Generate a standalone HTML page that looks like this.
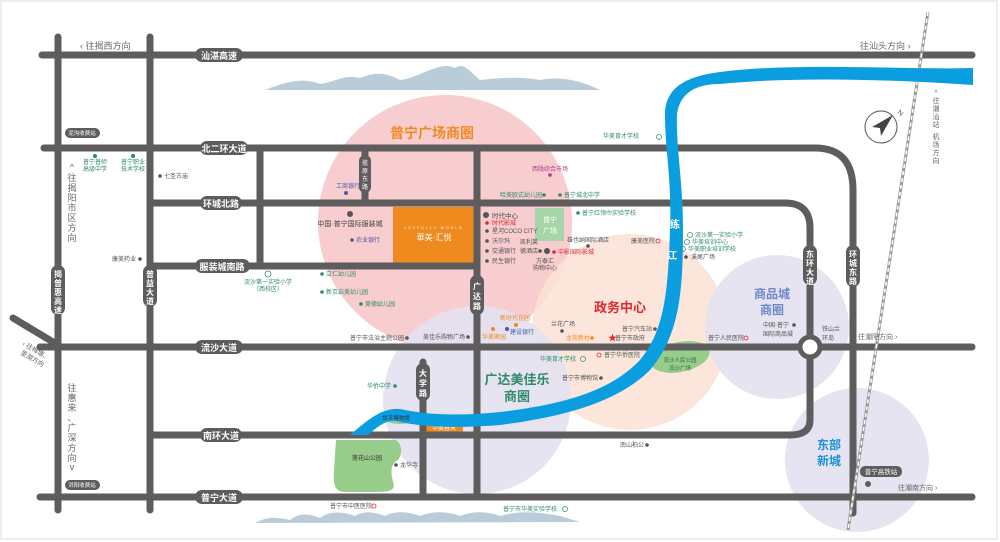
<!DOCTYPE html>
<html><head><meta charset="utf-8"><style>
html,body{margin:0;padding:0;background:#fff}
svg{display:block;font-family:"Liberation Sans","Noto Sans CJK SC",sans-serif}
.s{font-size:6px;fill:#555}
.g{font-size:6px;fill:#2f8a6a}
.b{font-size:6px;fill:#4a5aa0}
.r{font-size:6px;fill:#e0262e}
.o{font-size:6px;fill:#ef8a1e}
.pl{font-size:9px;fill:#fff;font-weight:bold}
.dir{font-size:9px;fill:#666}
</style></head><body>
<svg width="1000" height="542" viewBox="0 0 1000 542">
<rect x="0" y="0" width="1000" height="542" fill="#fff"/>
<rect x="1" y="1" width="996" height="538" fill="none" stroke="#eee" stroke-width="2"/>
<!-- mountains -->
<path d="M265,90 C290,80 305,78 320,84 C335,82 345,74 360,78 C375,72 385,72 400,80 C420,78 440,60 455,68 C465,62 470,72 480,80 C500,78 520,76 540,80 C560,76 580,80 600,90 Z" fill="#b9ccd9"/>
<path d="M255,523 C270,515 280,518 290,520 C300,512 310,514 320,518 C330,510 345,512 355,516 C365,510 375,512 385,516 C395,510 410,512 420,516 C435,510 450,512 460,516 C475,510 490,512 500,516 C520,510 540,512 560,516 L580,522 Z" fill="#b9ccd9"/>
<!-- circles -->
<circle cx="445" cy="222" r="127" fill="#f7cdd0"/>
<circle cx="630" cy="332" r="98" fill="#fbe2d6" fill-opacity="0.85"/>
<circle cx="477" cy="400" r="94" fill="#e3e1ef" fill-opacity="0.9"/>
<circle cx="777" cy="327" r="72" fill="#e3e1ef" fill-opacity="0.9"/>
<circle cx="857" cy="460" r="72" fill="#e3e1ef" fill-opacity="0.9"/>
<!-- green areas -->
<rect x="535" y="208" width="29" height="33" fill="#a8d5a8"/>
<path d="M336,440 L396,440 C403,445 402,455 398,460 C388,465 392,478 394,485 C394,492 385,492 370,492 L345,492 C335,492 333,485 334,470 Z" fill="#97cc8a"/>
<ellipse cx="680" cy="357" rx="30" ry="15" fill="#97cc8a" transform="rotate(-12 680 357)"/>
<ellipse cx="400" cy="418" rx="16" ry="6" fill="#97cc8a"/>
<!-- orange block -->
<rect x="393" y="207" width="82" height="57" fill="#ef8a1e"/>
<text x="434" y="229" font-size="3.5" fill="#fff" text-anchor="middle" letter-spacing="2">JOYFULLY WORLD</text>
<text x="434" y="240" font-size="8" fill="#fff" text-anchor="middle">華美·汇悦</text>
<rect x="425" y="422" width="38" height="10" fill="#ef8a1e"/>
<text x="444" y="430" font-size="6" fill="#fff" text-anchor="middle">华美春天</text>
<!-- roads -->
<g stroke="#5e5c5d" stroke-width="7" fill="none" stroke-linecap="round">
<path d="M42,55 H972"/>
<path d="M44,148 H815 Q853,148 853,190 V513"/>
<path d="M150,203 H785 Q810,203 810,228 V420 Q810,435 790,435 H150"/>
<path d="M150,266 H477"/>
<path d="M40,347 H972"/>
<path d="M40,497 H972"/>
<path d="M58,37 V510"/>
<path d="M150,37 V510"/>
<path d="M260,150 V266"/>
<path d="M365,150 V203"/>
<path d="M477,150 V497"/>
<path d="M423,362 V497"/>
<path d="M13,318 L58,345"/>
</g>
<circle cx="810" cy="347" r="10" fill="#fff" stroke="#5e5c5d" stroke-width="5"/>
<!-- rail -->
<line x1="928" y1="12" x2="848" y2="530" stroke="#999" stroke-width="3"/>
<line x1="928" y1="12" x2="848" y2="530" stroke="#fff" stroke-width="1.5" stroke-dasharray="4 3"/>
<!-- river -->
<path d="M973,80 L973,68 C900,70 800,62 720,72 C690,76 665,85 665,115 C665,150 672,180 670,230 C668,290 665,330 640,360 C610,392 560,405 500,412 C460,416 430,415 405,410 C385,405 370,418 350,435 L368,435 C380,424 390,418 400,422 C430,428 460,428 500,425 C570,416 620,400 650,370 C680,335 683,290 683,230 C683,180 676,150 677,115 C680,90 700,84 720,84 C800,76 900,80 973,85 Z" fill="#0a9ee0"/>
<text x="675" y="228" font-size="10" fill="#fff" font-weight="bold" text-anchor="middle">练</text>
<text x="672" y="259" font-size="10" fill="#fff" font-weight="bold" text-anchor="middle">江</text>
<!-- road labels -->
<g>
<rect x="195" y="48" width="48" height="14" rx="7" fill="#5e5c5d"/><text x="219" y="59" class="pl" text-anchor="middle">汕湛高速</text>
<rect x="200" y="141" width="48" height="14" rx="7" fill="#5e5c5d"/><text x="224" y="152" class="pl" text-anchor="middle">北二环大道</text>
<rect x="200" y="196" width="42" height="14" rx="7" fill="#5e5c5d"/><text x="221" y="207" class="pl" text-anchor="middle">环城北路</text>
<rect x="195" y="259" width="55" height="14" rx="7" fill="#5e5c5d"/><text x="222" y="270" class="pl" text-anchor="middle">服装城南路</text>
<rect x="195" y="340" width="48" height="14" rx="7" fill="#5e5c5d"/><text x="219" y="351" class="pl" text-anchor="middle">流沙大道</text>
<rect x="200" y="428" width="42" height="14" rx="7" fill="#5e5c5d"/><text x="221" y="439" class="pl" text-anchor="middle">南环大道</text>
<rect x="195" y="490" width="48" height="14" rx="7" fill="#5e5c5d"/><text x="219" y="501" class="pl" text-anchor="middle">普宁大道</text>
<rect x="51" y="265" width="14" height="50" rx="7" fill="#5e5c5d"/><text x="58" y="277" font-size="8" fill="#fff" font-weight="bold" text-anchor="middle"><tspan x="58">揭</tspan><tspan x="58" dy="9">普</tspan><tspan x="58" dy="9">惠</tspan><tspan x="58" dy="9">高</tspan><tspan x="58" dy="9">速</tspan></text>
<rect x="143" y="265" width="14" height="42" rx="7" fill="#5e5c5d"/><text x="150" y="277" font-size="8" fill="#fff" font-weight="bold" text-anchor="middle"><tspan x="150">普</tspan><tspan x="150" dy="9">益</tspan><tspan x="150" dy="9">大</tspan><tspan x="150" dy="9">道</tspan></text>
<rect x="359" y="155" width="12" height="38" rx="6" fill="#5e5c5d"/><text x="365" y="165" font-size="6" fill="#fff" text-anchor="middle"><tspan x="365">揽</tspan><tspan x="365" dy="8">原</tspan><tspan x="365" dy="8">东</tspan><tspan x="365" dy="8">路</tspan></text>
<rect x="470" y="275" width="14" height="40" rx="7" fill="#5e5c5d"/><text x="477" y="289" font-size="8" fill="#fff" font-weight="bold" text-anchor="middle"><tspan x="477">广</tspan><tspan x="477" dy="10">达</tspan><tspan x="477" dy="10">路</tspan></text>
<rect x="416" y="363" width="14" height="38" rx="7" fill="#5e5c5d"/><text x="423" y="376" font-size="8" fill="#fff" font-weight="bold" text-anchor="middle"><tspan x="423">大</tspan><tspan x="423" dy="10">学</tspan><tspan x="423" dy="10">路</tspan></text>
<rect x="803" y="245" width="14" height="40" rx="7" fill="#5e5c5d"/><text x="810" y="257" font-size="8" fill="#fff" font-weight="bold" text-anchor="middle"><tspan x="810">东</tspan><tspan x="810" dy="9">环</tspan><tspan x="810" dy="9">大</tspan><tspan x="810" dy="9">道</tspan></text>
<rect x="846" y="245" width="14" height="42" rx="7" fill="#5e5c5d"/><text x="853" y="257" font-size="8" fill="#fff" font-weight="bold" text-anchor="middle"><tspan x="853">环</tspan><tspan x="853" dy="9">城</tspan><tspan x="853" dy="9">东</tspan><tspan x="853" dy="9">路</tspan></text>
<rect x="65" y="128" width="35" height="10" rx="5" fill="#5e5c5d"/><text x="82" y="135" font-size="5.5" fill="#fff" text-anchor="middle">泥沟收费站</text>
<rect x="65" y="480" width="35" height="10" rx="5" fill="#5e5c5d"/><text x="82" y="487" font-size="5.5" fill="#fff" text-anchor="middle">洪阳收费站</text>
<rect x="860" y="466" width="42" height="11" rx="5" fill="#5e5c5d"/><text x="881" y="474" font-size="6.5" fill="#fff" text-anchor="middle">普宁高铁站</text>
<circle cx="868" cy="484" r="3" fill="#5e5c5d"/>
</g>
<!-- direction texts -->
<text x="80" y="49" class="dir">‹ 往揭西方向</text>
<text x="860" y="49" class="dir">往汕头方向 ›</text>
<text x="72" y="170" class="dir" text-anchor="middle"><tspan x="72">^</tspan><tspan x="72" dy="11">往</tspan><tspan x="72" dy="10">揭</tspan><tspan x="72" dy="10">阳</tspan><tspan x="72" dy="10">市</tspan><tspan x="72" dy="10">区</tspan><tspan x="72" dy="10">方</tspan><tspan x="72" dy="10">向</tspan></text>
<text x="72" y="391" class="dir" text-anchor="middle"><tspan x="72">往</tspan><tspan x="72" dy="10">惠</tspan><tspan x="72" dy="10">来</tspan><tspan x="72" dy="10">、</tspan><tspan x="72" dy="10">广</tspan><tspan x="72" dy="10">深</tspan><tspan x="72" dy="10">方</tspan><tspan x="72" dy="10">向</tspan><tspan x="72" dy="9">v</tspan></text>
<text x="22" y="345" font-size="6.5" fill="#666" transform="rotate(30 22 345)">‹ 往梅塘、</text>
<text x="20" y="354" font-size="6.5" fill="#666" transform="rotate(30 20 354)">里湖方向</text>
<text x="936" y="95" font-size="7" fill="#666" text-anchor="middle"><tspan x="936">^</tspan><tspan x="936" dy="8">往</tspan><tspan x="936" dy="8">潮</tspan><tspan x="936" dy="8">汕</tspan><tspan x="936" dy="8">站</tspan><tspan x="936" dy="12">机</tspan><tspan x="936" dy="8">场</tspan><tspan x="936" dy="8">方</tspan><tspan x="936" dy="8">向</tspan></text>
<text x="858" y="339" font-size="7" fill="#666">往潮阳方向 ›</text>
<text x="898" y="490" font-size="7" fill="#666">往潮南方向 ›</text>
<!-- compass -->
<circle cx="881" cy="127" r="16" fill="none" stroke="#555" stroke-width="1"/>
<path d="M893,115 L872,127 L880,128 L881,136 Z" fill="#444"/>
<text x="897" y="113" font-size="7" fill="#555" transform="rotate(40 897 113)">N</text>
<!-- district titles -->
<text x="432" y="138" font-size="14" fill="#ef8a1e" font-weight="bold" text-anchor="middle">普宁广场商圈</text>
<text x="620" y="312" font-size="13" fill="#e0262e" font-weight="bold" text-anchor="middle">政务中心</text>
<text x="517" y="384" font-size="13" fill="#2f8a6a" font-weight="bold" text-anchor="middle">广达美佳乐</text>
<text x="517" y="401" font-size="13" fill="#2f8a6a" font-weight="bold" text-anchor="middle">商圈</text>
<text x="772" y="298" font-size="12" fill="#6c86c8" font-weight="bold" text-anchor="middle">商品城</text>
<text x="772" y="314" font-size="12" fill="#6c86c8" font-weight="bold" text-anchor="middle">商圈</text>
<text x="829" y="449" font-size="12" fill="#1a90d8" font-weight="bold" text-anchor="middle">东部</text>
<text x="829" y="465" font-size="12" fill="#1a90d8" font-weight="bold" text-anchor="middle">新城</text>
<text x="550" y="222" font-size="7" fill="#fff" text-anchor="middle">普宁</text>
<text x="550" y="233" font-size="7" fill="#fff" text-anchor="middle">广场</text>
<text x="367" y="460" font-size="6" fill="#333" text-anchor="middle">莲花山公园</text>
<text x="680" y="362" font-size="5.5" fill="#2f6a4a" text-anchor="middle">流沙人民公园</text>
<text x="680" y="370" font-size="5.5" fill="#2f6a4a" text-anchor="middle">流沙广场</text>
<text x="396" y="420" font-size="5.5" fill="#333" text-anchor="middle">世平博物馆</text>
<!-- POIs -->
<g>
<circle cx="95" cy="156" r="2" fill="#2f8a6a"/><text x="95" y="164" class="g" text-anchor="middle">普宁普师</text><text x="95" y="171" class="g" text-anchor="middle">高级中学</text>
<circle cx="133" cy="156" r="2" fill="#2f8a6a"/><text x="133" y="164" class="g" text-anchor="middle">普宁职业</text><text x="133" y="171" class="g" text-anchor="middle">技术学校</text>
<circle cx="160" cy="176" r="1.8" fill="#555"/><text x="164" y="178" class="s">七圣古庙</text>
<text x="348" y="188" class="b" text-anchor="middle">工商银行</text><circle cx="346" cy="193" r="2" fill="#4a5aa0"/>
<circle cx="350" cy="214" r="3" fill="#555"/><text x="350" y="226" font-size="7" fill="#444" text-anchor="middle">中国·普宁国际服装城</text>
<circle cx="352" cy="240" r="1.8" fill="#4a5aa0"/><text x="356" y="242" class="b">农业银行</text>
<text x="112" y="261" class="s">康美药业</text><circle cx="140" cy="259" r="1.8" fill="#555"/>
<circle cx="268" cy="274" r="3" fill="none" stroke="#2f8a6a" stroke-width="0.8"/>
<text x="268" y="284" class="g" text-anchor="middle">流沙第一实验小学</text><text x="268" y="291" class="g" text-anchor="middle">（西校区）</text>
<circle cx="322" cy="274" r="1.8" fill="#2f8a6a"/><text x="326" y="276" class="g">立仁幼儿园</text>
<circle cx="322" cy="292" r="1.8" fill="#2f8a6a"/><text x="326" y="294" class="g">新京启美幼儿园</text>
<circle cx="361" cy="304" r="1.8" fill="#2f8a6a"/><text x="365" y="306" class="g">美德幼儿园</text>
<circle cx="486" cy="215" r="3" fill="#555"/><text x="492" y="218" font-size="6.5" fill="#444">时代中心</text>
<circle cx="487" cy="223" r="1.8" fill="#e0262e"/><text x="492" y="225" class="r">时代影城</text>
<circle cx="487" cy="231" r="1.8" fill="#555"/><text x="492" y="233" class="s">星河COCO CITY</text>
<circle cx="487" cy="241" r="1.8" fill="#555"/><text x="492" y="243" class="s">沃尔玛</text>
<circle cx="487" cy="251" r="1.8" fill="#555"/><text x="492" y="253" class="s">交通银行</text>
<circle cx="487" cy="261" r="1.8" fill="#555"/><text x="492" y="263" class="s">民生银行</text>
<text x="520" y="244" class="s">凯利莱</text><text x="520" y="253" class="s">德酒店</text>
<circle cx="540" cy="251" r="1.8" fill="#555"/><circle cx="547" cy="251" r="3" fill="#555"/>
<circle cx="554" cy="252" r="1.8" fill="#e0262e"/><text x="558" y="254" class="r">中影国际影城</text>
<text x="545" y="263" class="s" text-anchor="middle">万泰汇</text><text x="545" y="270" class="s" text-anchor="middle">购物中心</text>
<text x="550" y="171" font-size="6" fill="#b03a8a" text-anchor="middle">西陇综合市场</text><circle cx="550" cy="175" r="1.8" fill="#b03a8a"/>
<text x="500" y="197" class="g">哈美欧式幼儿园</text><circle cx="544" cy="195" r="1.8" fill="#2f8a6a"/>
<circle cx="560" cy="195" r="1.8" fill="#2f8a6a"/><text x="564" y="197" class="g">普宁城北中学</text>
<circle cx="578" cy="213" r="1.8" fill="#2f8a6a"/><text x="582" y="215" class="g">普宁红领巾实验学校</text>
<text x="603" y="138" class="g">华美育才学校</text><circle cx="659" cy="137" r="2.5" fill="none" stroke="#2f8a6a" stroke-width="0.7"/>
<text x="567" y="242" class="s">雄也纳国际酒店</text><circle cx="588" cy="246" r="1.8" fill="#555"/>
<text x="631" y="243" class="s">康美医院</text><circle cx="658" cy="241" r="2" fill="none" stroke="#e0262e" stroke-width="0.8"/>
<circle cx="690" cy="235" r="2.5" fill="none" stroke="#2f8a6a" stroke-width="0.7"/><text x="695" y="237" class="g">流沙第一实验小学</text>
<circle cx="687" cy="242" r="2.5" fill="none" stroke="#2f8a6a" stroke-width="0.7"/><text x="692" y="244" class="g">华美培训中心</text>
<circle cx="683" cy="249" r="2.5" fill="none" stroke="#2f8a6a" stroke-width="0.7"/><text x="688" y="251" class="g">华美职业培训学校</text>
<circle cx="686" cy="257" r="1.8" fill="#555"/><text x="691" y="259" class="s">溪尾广场</text>
<text x="500" y="320" class="o">新时代花园</text><circle cx="516" cy="325" r="2" fill="#ef8a1e"/>
<circle cx="493" cy="329" r="2" fill="#ef8a1e"/><text x="482" y="339" class="o">华美家园</text>
<circle cx="507" cy="329" r="2" fill="#4a5aa0"/><text x="510" y="334" class="b">建设银行</text>
<text x="551" y="326" class="s">兰花广场</text><circle cx="562" cy="331" r="1.8" fill="#555"/>
<text x="566" y="340" class="o">龙苑新村</text><circle cx="592" cy="338" r="1.8" fill="#ef8a1e"/>
<text x="608" y="341" font-size="9" fill="#e0262e">★</text><text x="615" y="340" class="s">普宁市政府</text>
<text x="622" y="331" class="s">普宁汽车站</text><circle cx="655" cy="329" r="1.8" fill="#555"/>
<text x="708" y="340" class="s">普宁人民医院</text><circle cx="746" cy="338" r="2" fill="none" stroke="#e0262e" stroke-width="0.8"/>
<text x="763" y="327" class="s">中国·普宁</text><circle cx="794" cy="325" r="1.8" fill="#555"/><text x="763" y="336" class="s">国际商品城</text>
<text x="822" y="331" class="s">铁山兰</text><text x="822" y="340" class="s">环岛</text>
<text x="350" y="340" class="s">普宁市法治主题公园</text><circle cx="407" cy="338" r="1.8" fill="#555"/>
<text x="423" y="339" class="s">美佳乐购物广场</text><circle cx="468" cy="337" r="1.8" fill="#555"/>
<text x="540" y="361" class="g">华美育才学校</text><circle cx="583" cy="359" r="2.5" fill="none" stroke="#2f8a6a" stroke-width="0.7"/>
<circle cx="599" cy="355" r="2" fill="none" stroke="#e0262e" stroke-width="0.8"/><text x="604" y="357" class="s">普宁华侨医院</text>
<text x="562" y="380" class="s">普宁市博物馆</text><circle cx="601" cy="378" r="1.8" fill="#555"/>
<text x="367" y="388" class="g">华侨中学</text><circle cx="395" cy="386" r="1.8" fill="#2f8a6a"/>
<circle cx="396" cy="465" r="1.8" fill="#555"/><text x="400" y="467" class="s">龙华寺</text>
<text x="620" y="447" class="s">南山柏公</text><circle cx="647" cy="445" r="1.8" fill="#555"/>
<text x="330" y="508" class="s">普宁市中医医院</text><circle cx="374" cy="506" r="2" fill="none" stroke="#e0262e" stroke-width="0.8"/>
<text x="503" y="511" class="g">普宁市华美实验学校</text><circle cx="565" cy="509" r="2.5" fill="none" stroke="#2f8a6a" stroke-width="0.7"/>
</g>
</svg>
</body></html>
